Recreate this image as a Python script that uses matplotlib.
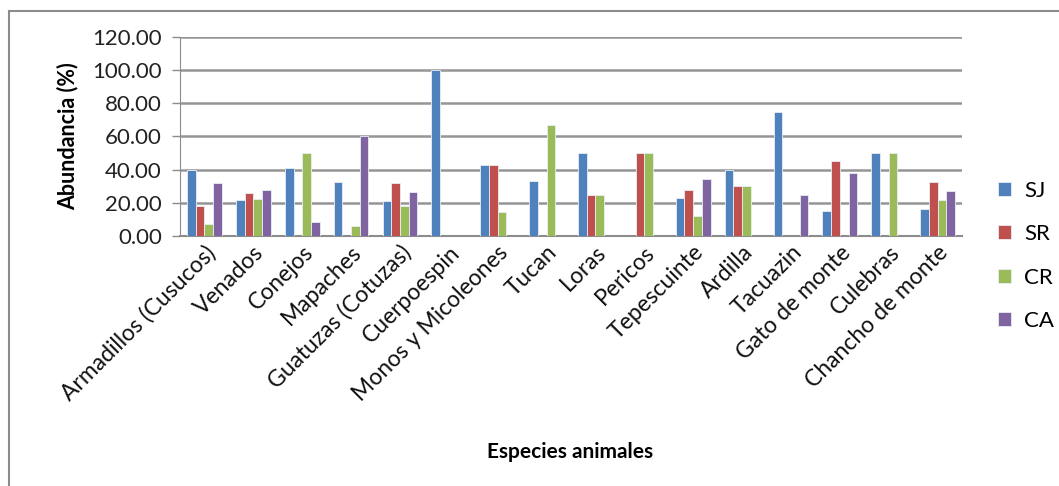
import numpy as np
import matplotlib.pyplot as plt
from matplotlib.patches import Rectangle

plt.rcParams['font.family'] = ['Lato', 'DejaVu Sans']

species = ["Armadillos (Cusucos)", "Venados", "Conejos", "Mapaches",
           "Guatuzas (Cotuzas)", "Cuerpoespin", "Monos y Micoleones", "Tucan",
           "Loras", "Pericos", "Tepescuinte", "Ardilla", "Tacuazin",
           "Gato de monte", "Culebras", "Chancho de monte"]

sj = [40.0, 21.7, 40.8, 32.6, 21.1, 100.0, 42.9, 33.3, 50.0, 0.0, 23.1, 40.0, 75.0, 15.0, 50.0, 16.3]
sr = [18.3, 25.7, 0.0, 0.0, 32.0, 0.0, 42.9, 0.0, 25.0, 50.0, 27.7, 30.0, 0.0, 45.4, 0.0, 32.6]
cr = [7.4, 22.3, 50.0, 6.0, 18.3, 0.0, 14.3, 66.67, 25.0, 50.0, 12.3, 30.0, 0.0, 0.0, 50.0, 21.7]
ca = [32.0, 27.7, 8.2, 60.0, 26.5, 0.0, 0.0, 0.0, 0.0, 0.0, 34.6, 0.0, 25.0, 38.0, 0.0, 27.1]

series = {"SJ": sj, "SR": sr, "CR": cr, "CA": ca}
colors = ["#4F81BD", "#C0504D", "#9BBB59", "#8064A2"]

fig = plt.figure(figsize=(10.59, 4.86), dpi=100)
ax = fig.add_axes([0.170, 0.5144, 0.7384, 0.4095])

x = np.arange(len(species))
width = 0.178
for i, ((name, vals), col) in enumerate(zip(series.items(), colors)):
    ax.bar(x + (i - 1.5) * width, vals, width, color=col, label=name,
           edgecolor="#e8eef6", linewidth=0.6, zorder=3)

ax.set_xlim(-0.5, len(species) - 0.5)
ax.set_ylim(0, 120)
ax.set_yticks(np.arange(0, 121, 20))
ax.set_yticklabels([f"{v:.2f}" for v in np.arange(0, 121, 20)], fontsize=16, color="#222222")
ax.yaxis.grid(True, color="#959595", linewidth=1.8, zorder=0)
ax.tick_params(axis="y", length=6, color="#8c8c8c", width=1, pad=7)
ax.tick_params(axis="x", length=0, pad=4)
ax.set_xticks(x)
ax.set_xticklabels(species, rotation=45, ha="right", rotation_mode="anchor", fontsize=16.5, color="#111111")

for side in ["top", "right"]:
    ax.spines[side].set_visible(False)
ax.spines["left"].set_color("#8c8c8c")
ax.spines["bottom"].set_color("#8c8c8c")
ax.spines["bottom"].set_linewidth(1.5)

ax.set_ylabel("Abundancia (%)", fontsize=15.5, fontweight="bold", labelpad=10)
fig.text(0.538, 0.07, "Especies animales", ha="center", va="center", fontsize=15, fontweight="bold")

ax.legend(loc="center left", bbox_to_anchor=(1.02, -0.1), frameon=False, fontsize=16,
          handlelength=0.6, handleheight=0.6, handletextpad=0.6, labelspacing=1.05)

fig.patches.append(Rectangle((0.0085, -0.1), 1.2, 1.077, transform=fig.transFigure,
                             fill=False, edgecolor="#8c8c8c", linewidth=1.5))

fig.savefig("out.png", dpi=100)
